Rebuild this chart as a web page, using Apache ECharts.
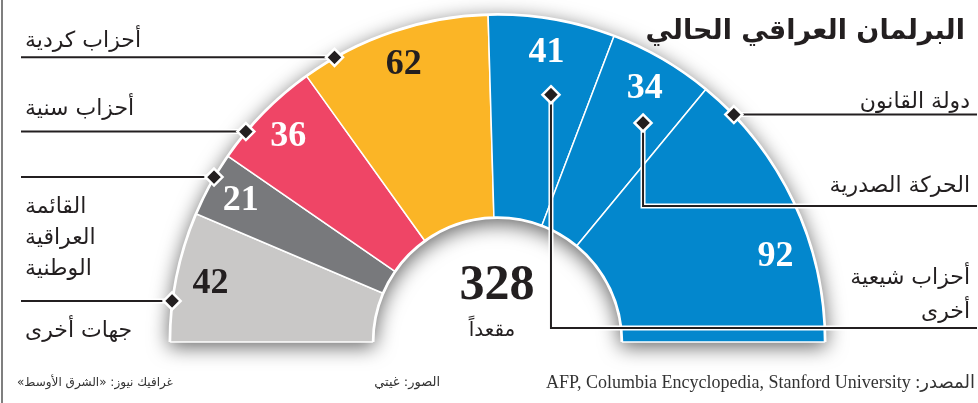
<!DOCTYPE html>
<html>
<head>
<meta charset="utf-8">
<script src="https://cdn.jsdelivr.net/npm/echarts@6/dist/echarts.min.js"></script>
<style>
  html, body { margin: 0; padding: 0; background: #fff; }
  #chart { width: 978px; height: 403px; direction: rtl; }
</style>
</head>
<body>
<div id="chart"></div>
<script>
// المقاعد من اليسار الى اليمين
const partyNames = ['جهات أخرى', 'القائمة العراقية الوطنية', 'أحزاب سنية', 'أحزاب كردية', 'أحزاب شيعية أخرى', 'الحركة الصدرية', 'دولة القانون'];
const seats = [42, 21, 36, 62, 41, 34, 92];
const partyColors = ['#c9c8c7', '#78797c', '#ef4566', '#fbb526', '#0387cd', '#0387cd', '#0387cd'];
const valueColors = ['#231f20', '#ffffff', '#ffffff', '#231f20', '#ffffff', '#ffffff', '#ffffff'];
const sideLabels = ['جهات أخرى', 'القائمة\nالعراقية\nالوطنية', 'أحزاب سنية', 'أحزاب كردية', 'أحزاب شيعية\nأخرى', 'الحركة الصدرية', 'دولة القانون'];
const totalCaption = 'مقعداً';
const titleText = 'البرلمان العراقي الحالي';
const footerTexts = ['غرافيك نيوز: «الشرق الأوسط»', 'الصور: غيتي', 'المصدر: AFP, Columbia Encyclopedia, Stanford University'];

const INK = '#231f20';
const CX = 497.5, CY = 342, R0 = 125, R1 = 327;

// مواضع خطوط الاشارة (زاوية، نصف قطر، نهاية عمودية)
const leaders = [
  { angle: 172.8, r: R1 + 1, side: 'left' },
  { angle: 149.8, r: R1 + 1, side: 'left' },
  { angle: 140.1, r: R1 + 1, side: 'left' },
  { angle: 119.8, r: R1 + 1, side: 'left' },
  { angle: 77.8, r: 253, side: 'right', drop: 328 },
  { angle: 56.4, r: 263, side: 'right', drop: 206 },
  { angle: 43.9, r: R1 + 1, side: 'right' },
];
// مواضع نصوص الاسماء
const labelPos = [
  { x: 25, y: 331, align: 'left' },
  { x: 25, y: 238, align: 'left', lineHeight: 31 },
  { x: 25, y: 109, align: 'left' },
  { x: 25, y: 41, align: 'left' },
  { x: 970, y: 295, align: 'right', lineHeight: 34 },
  { x: 970, y: 186, align: 'right' },
  { x: 970, y: 102, align: 'right' },
];

function polar(deg, r) {
  const a = deg * Math.PI / 180;
  return [CX + r * Math.cos(a), CY - r * Math.sin(a)];
}

const halos = [], inks = [], diamonds = [];
leaders.forEach((ld) => {
  const p = polar(ld.angle, ld.r);
  let pts;
  if (ld.side === 'left') {
    pts = [[21, p[1]], p];
  } else if (ld.drop) {
    pts = [p, [p[0], ld.drop], [977, ld.drop]];
  } else {
    pts = [p, [977, p[1]]];
  }
  halos.push({ type: 'polyline', z: 100, silent: true, shape: { points: pts }, style: { stroke: '#fff', lineWidth: 5, fill: null } });
  inks.push({ type: 'polyline', z: 101, silent: true, shape: { points: pts }, style: { stroke: INK, lineWidth: 2, fill: null } });
  const d = 8.5;
  diamonds.push({
    type: 'polygon', z: 102, silent: true,
    shape: { points: [[p[0], p[1] - d], [p[0] + d, p[1]], [p[0], p[1] + d], [p[0] - d, p[1]]] },
    style: { fill: INK, stroke: '#fff', lineWidth: 2.5 },
  });
});

const texts = labelPos.map((lp, i) => ({
  type: 'text', z: 103, silent: true, x: lp.x, y: lp.y,
  style: {
    text: sideLabels[i], fill: INK, align: lp.align, verticalAlign: 'middle',
    font: '22px "DejaVu Sans"', lineHeight: lp.lineHeight || 26,
  },
}));

const total = seats.reduce((a, b) => a + b, 0);
texts.push(
  { type: 'text', z: 103, silent: true, x: 497, y: 286, style: { text: String(total), fill: INK, align: 'center', verticalAlign: 'middle', font: 'bold 50px "Liberation Serif"' } },
  { type: 'text', z: 103, silent: true, x: 492, y: 331, style: { text: totalCaption, fill: INK, align: 'center', verticalAlign: 'middle', font: '20px "DejaVu Sans"' } },
  { type: 'text', z: 103, silent: true, x: 17, y: 383, style: { text: footerTexts[0], fill: '#333', align: 'left', verticalAlign: 'middle', font: '12px "DejaVu Sans"' } },
  { type: 'text', z: 103, silent: true, x: 440, y: 383, style: { text: footerTexts[1], fill: '#333', align: 'right', verticalAlign: 'middle', font: '13px "DejaVu Sans"' } },
  { type: 'text', z: 103, silent: true, x: 975, y: 383, style: { text: footerTexts[2], fill: '#333', align: 'right', verticalAlign: 'middle', font: '18px "Liberation Serif", "DejaVu Sans"' } },
);

const border = { type: 'line', z: 100, silent: true, shape: { x1: 2, y1: 0, x2: 2, y2: 403 }, style: { stroke: '#555', lineWidth: 1.5 } };

const pieData = seats.map((v, i) => ({
  name: partyNames[i],
  value: v,
  itemStyle: { color: partyColors[i] },
}));

const labelData = seats.map((v, i) => {
  const item = {
    name: partyNames[i],
    value: v,
    label: { color: valueColors[i] },
  };
  if (i === 6) item.label.offset = [13, 40];
  return item;
});

const myChart = echarts.init(document.getElementById('chart'), null, { renderer: 'canvas' });

const option = {
  animation: false,
  backgroundColor: '#fff',
  title: {
    text: titleText,
    right: 8,
    top: 13,
    textStyle: { fontFamily: 'DejaVu Sans', fontWeight: 'bold', fontSize: 27, color: INK },
  },
  series: [
    {
      // خلفية الظل
      type: 'pie', silent: true, z: 1,
      center: [CX, CY], radius: [R0 - 2, R1 + 2],
      startAngle: 180, endAngle: 0,
      label: { show: false }, labelLine: { show: false },
      itemStyle: { color: '#fff', shadowBlur: 20, shadowColor: 'rgba(0,0,0,0.6)', shadowOffsetY: 5 },
      data: [{ value: 1 }],
    },
    {
      type: 'pie', silent: true, z: 2,
      center: [CX, CY], radius: [R0, R1],
      startAngle: 180, endAngle: 0,
      label: { show: false }, labelLine: { show: false },
      itemStyle: { borderColor: '#fff', borderWidth: 1.5 },
      data: pieData,
    },
    {
      // ارقام المقاعد
      type: 'pie', silent: true, z: 3,
      center: [CX, CY], radius: [253, R1],
      startAngle: 180, endAngle: 0,
      itemStyle: { color: 'rgba(0,0,0,0)' },
      label: {
        show: true, position: 'inside', formatter: '{c}',
        fontFamily: 'Liberation Serif', fontWeight: 'bold', fontSize: 36,
      },
      labelLine: { show: false },
      data: labelData,
    },
  ],
  graphic: [border, ...halos, ...inks, ...diamonds, ...texts],
};

myChart.setOption(option);
</script>
</body>
</html>
